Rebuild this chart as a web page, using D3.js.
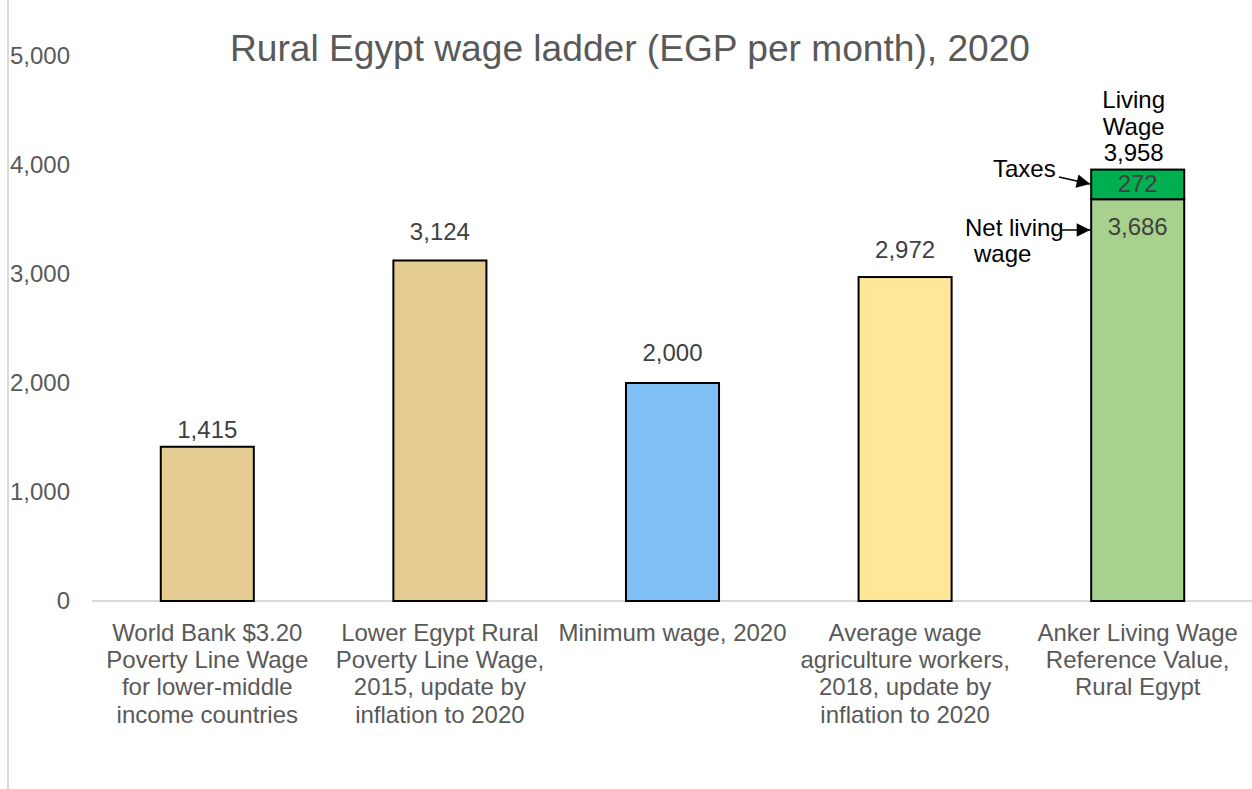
<!DOCTYPE html>
<html>
<head>
<meta charset="utf-8">
<script src="https://cdn.jsdelivr.net/npm/d3@7/dist/d3.min.js"></script>
<style>
  body { margin: 0; background: #fff; }
  text { font-family: "Liberation Sans", Arial, sans-serif; }
</style>
</head>
<body>
<div id="chart"></div>
<script>
// chart data
const categories = [
  ['World Bank $3.20', 'Poverty Line Wage', 'for lower-middle', 'income countries'],
  ['Lower Egypt Rural', 'Poverty Line Wage,', '2015, update by', 'inflation to 2020'],
  ['Minimum wage, 2020'],
  ['Average wage', 'agriculture workers,', '2018, update by', 'inflation to 2020'],
  ['Anker Living Wage', 'Reference Value,', 'Rural Egypt']
];
const values = [1415, 3124, 2000, 2972, 3686];
const taxes = [0, 0, 0, 0, 272];
const barColors = ['#e5cc93', '#e5cc93', '#7fbff5', '#ffe699', '#a9d18e'];
const yTicks = [0, 1000, 2000, 3000, 4000, 5000];

var width = 1252, height = 789;
var labelGap = [9, 20, 22, 19];   // excel puts the labels a bit unevenly

var svg = d3.select('#chart').append('svg')
    .attr('width', width)
    .attr('height', height);

// left border line
svg.append('line')
    .attr('x1', 8).attr('x2', 8)
    .attr('y1', 0).attr('y2', height)
    .attr('stroke', '#d9d9d9')
    .attr('stroke-width', 2);

var x = d3.scaleBand()
    .domain(d3.range(categories.length))
    .range([91, 1254])
    .paddingInner(0.6)
    .paddingOuter(0.3);

var y = d3.scaleLinear()
    .domain([0, 5000])
    .range([601, 56]);

// title
svg.append('text')
    .attr('x', 630)
    .attr('y', 61)
    .attr('text-anchor', 'middle')
    .attr('font-size', 36)
    .attr('textLength', 800)
    .attr('lengthAdjust', 'spacingAndGlyphs')
    .attr('fill', '#595959')
    .text('Rural Egypt wage ladder (EGP per month), 2020');

// y axis labels
var yAxis = d3.axisLeft(y)
    .tickValues(yTicks)
    .tickFormat(d3.format(','))
    .tickSize(0)
    .tickPadding(0);

var gy = svg.append('g')
    .attr('transform', 'translate(70,0)')
    .call(yAxis);
gy.select('.domain').remove();
gy.selectAll('text')
    .attr('font-size', 24)
    .attr('fill', '#595959')
    .style('font-family', '"Liberation Sans", Arial, sans-serif');

// baseline
svg.append('line')
    .attr('x1', 92).attr('x2', 1252)
    .attr('y1', y(0)).attr('y2', y(0))
    .attr('stroke', '#d9d9d9')
    .attr('stroke-width', 2);

// main bars
svg.selectAll('rect.bar')
    .data(values)
    .enter()
    .append('rect')
    .attr('class', 'bar')
    .attr('x', (d, i) => x(i))
    .attr('y', d => y(d))
    .attr('width', x.bandwidth())
    .attr('height', d => y(0) - y(d))
    .attr('fill', (d, i) => barColors[i])
    .attr('stroke', '#000')
    .attr('stroke-width', 2);

// taxes segment
svg.selectAll('rect.tax')
    .data(taxes.map((t, i) => ({t: t, i: i})).filter(d => d.t > 0))
    .enter()
    .append('rect')
    .attr('class', 'tax')
    .attr('x', d => x(d.i))
    .attr('y', d => y(values[d.i] + d.t))
    .attr('width', x.bandwidth())
    .attr('height', d => y(values[d.i]) - y(values[d.i] + d.t))
    .attr('fill', '#00b050')
    .attr('stroke', '#000')
    .attr('stroke-width', 2);

// value labels above bars
svg.selectAll('text.val')
    .data(values.slice(0, 4))
    .enter()
    .append('text')
    .attr('class', 'val')
    .attr('x', (d, i) => x(i) + x.bandwidth() / 2)
    .attr('y', (d, i) => y(d) - labelGap[i])
    .attr('text-anchor', 'middle')
    .attr('font-size', 24)
    .attr('fill', '#404040')
    .text(d => d3.format(',')(d));

// stacked bar labels
var last = values.length - 1;
var cx = x(last) + x.bandwidth() / 2;
var total = values[last] + taxes[last];

svg.append('text')
    .attr('x', cx).attr('y', y(values[last]) + 36)
    .attr('text-anchor', 'middle')
    .attr('font-size', 24)
    .attr('fill', '#404040')
    .text(d3.format(',')(values[last]));

svg.append('text')
    .attr('x', cx).attr('y', y(total) + 22)
    .attr('text-anchor', 'middle')
    .attr('font-size', 24)
    .attr('fill', '#404040')
    .text(d3.format(',')(taxes[last]));

['Living', 'Wage', d3.format(',')(total)].forEach(function (s, k) {
    svg.append('text')
        .attr('x', cx - 4)
        .attr('y', 108 + k * 26.5)
        .attr('text-anchor', 'middle')
        .attr('font-size', 24)
        .attr('fill', '#000')
        .text(s);
});

// annotations with arrows
svg.append('defs').append('marker')
    .attr('id', 'arrow')
    .attr('viewBox', '0 0 10 10')
    .attr('refX', 10).attr('refY', 5)
    .attr('markerWidth', 10).attr('markerHeight', 9)
    .attr('orient', 'auto')
    .append('path')
    .attr('d', 'M0,0 L10,5 L0,10 z')
    .attr('fill', '#000');

svg.append('text')
    .attr('x', 993).attr('y', 177)
    .attr('font-size', 24)
    .attr('fill', '#000')
    .text('Taxes');

svg.append('line')
    .attr('x1', 1059).attr('y1', 177)
    .attr('x2', x(last) - 1).attr('y2', 184)
    .attr('stroke', '#000')
    .attr('stroke-width', 1.5)
    .attr('marker-end', 'url(#arrow)');

svg.append('text')
    .attr('x', 965).attr('y', 236)
    .attr('font-size', 24)
    .attr('fill', '#000')
    .text('Net living');
svg.append('text')
    .attr('x', 974).attr('y', 262)
    .attr('font-size', 24)
    .attr('fill', '#000')
    .text('wage');

svg.append('line')
    .attr('x1', 1062).attr('y1', 230)
    .attr('x2', x(last) - 1).attr('y2', 230)
    .attr('stroke', '#000')
    .attr('stroke-width', 1.5)
    .attr('marker-end', 'url(#arrow)');

// category labels
categories.forEach(function (lines, i) {
    var t = svg.append('text')
        .attr('text-anchor', 'middle')
        .attr('font-size', 24)
        .attr('fill', '#595959');
    lines.forEach(function (s, k) {
        t.append('tspan')
            .attr('x', x(i) + x.bandwidth() / 2)
            .attr('y', 641 + k * 27.2)
            .text(s);
    });
});
</script>
</body>
</html>
